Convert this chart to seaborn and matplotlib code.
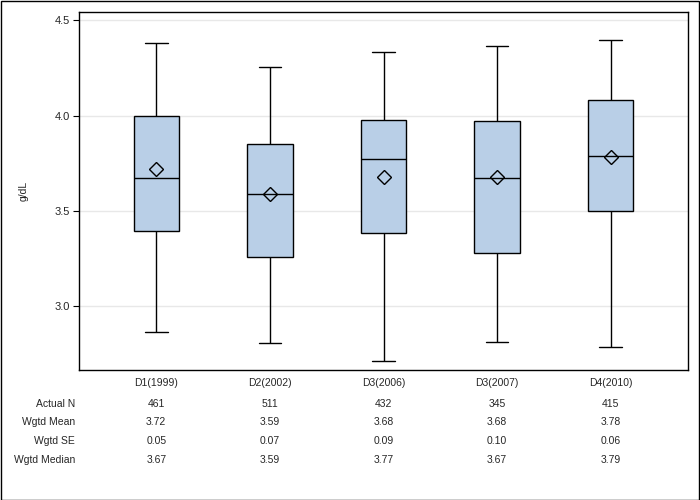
import matplotlib
matplotlib.use("Agg")
import matplotlib.pyplot as plt
import matplotlib.transforms as mtransforms
import seaborn as sns
import pandas as pd
import numpy as np

categories = ["D1(1999)", "D2(2002)", "D3(2006)", "D3(2007)", "D4(2010)"]
whisker_low = [2.862, 2.805, 2.710, 2.810, 2.784]
q1 = [3.392, 3.256, 3.383, 3.278, 3.497]
median = [3.671, 3.590, 3.771, 3.671, 3.790]
q3 = [3.995, 3.853, 3.979, 3.969, 4.080]
whisker_high = [4.383, 4.257, 4.331, 4.364, 4.394]
wgtd_mean = [3.72, 3.59, 3.68, 3.68, 3.78]

row_labels = ["Actual N", "Wgtd Mean", "Wgtd SE", "Wgtd Median"]
actual_n = ["461", "511", "432", "345", "415"]
mean_txt = ["3.72", "3.59", "3.68", "3.68", "3.78"]
se_txt = ["0.05", "0.07", "0.09", "0.10", "0.06"]
median_txt = ["3.67", "3.59", "3.77", "3.67", "3.79"]

rows = []
for i, c in enumerate(categories):
    for v in (whisker_low[i], q1[i], median[i], q3[i], whisker_high[i]):
        rows.append({"cat": c, "val": v})
df = pd.DataFrame(rows)
mdf = pd.DataFrame({"cat": categories, "mean": wgtd_mean})

sns.set_theme(style="white")
plt.rcParams["font.family"] = ["Liberation Sans", "DejaVu Sans"]

fig = plt.figure(figsize=(7, 5), dpi=100)
ax = fig.add_axes([79 / 700, 1 - 370 / 500, (688 - 79) / 700, (370 - 12) / 500])

sns.boxplot(data=df, x="cat", y="val", order=categories, whis=(0, 100),
            width=0.40, color="#B9CFE7", saturation=1, linewidth=1.0,
            linecolor="black", showfliers=False, ax=ax,
            boxprops=dict(edgecolor="black", linewidth=1.0),
            medianprops=dict(color="black", linewidth=1.0),
            whiskerprops=dict(color="black", linewidth=1.0),
            capprops=dict(color="black", linewidth=1.0))

sns.pointplot(data=mdf, x="cat", y="mean", order=categories, linestyle="none",
              marker="D", markersize=7, markerfacecolor="none",
              markeredgecolor="black", markeredgewidth=1.0, color="black",
              errorbar=None, ax=ax)

ax.set_xlim(-0.68, 4.68)
ax.set_ylim(2.665, 4.543)
ax.set_yticks([3.0, 3.5, 4.0, 4.5])
ax.set_yticklabels(["3.0", "3.5", "4.0", "4.5"])
ax.yaxis.grid(True, color="#E8E8E8", linewidth=1.0)
ax.set_axisbelow(True)
ax.set_xlabel("")
ax.set_ylabel("g/dL", fontsize=7.5, labelpad=19)
ax.tick_params(axis="y", which="both", left=True, length=4.5, width=0.8,
               color="black", labelsize=8, pad=2)
ax.tick_params(axis="x", bottom=False, length=0, labelsize=7.5, pad=6)
for s in ax.spines.values():
    s.set_color("black")
    s.set_linewidth(1.0)

# statistics table below the axes
trans = mtransforms.blended_transform_factory(ax.transData, fig.transFigure)
ftrans = fig.transFigure
row_y = [403.7, 422.3, 441.0, 459.7]
row_vals = [actual_n, mean_txt, se_txt, median_txt]
for lab, yy, vals in zip(row_labels, row_y, row_vals):
    fy = 1 - yy / 500
    fig.text(75 / 700, fy, lab, ha="right", va="center", fontsize=7.5)
    for i, v in enumerate(vals):
        ax.text(i, fy, v, transform=trans, ha="center", va="center", fontsize=7.5)

# outer border
fig.patches.append(plt.Rectangle((0.5 / 700, 0.5 / 500), 698.5 / 700, 498.5 / 500,
                                 transform=ftrans, fill=False, edgecolor="black",
                                 linewidth=1.0))

fig.savefig("out.png", dpi=100)
